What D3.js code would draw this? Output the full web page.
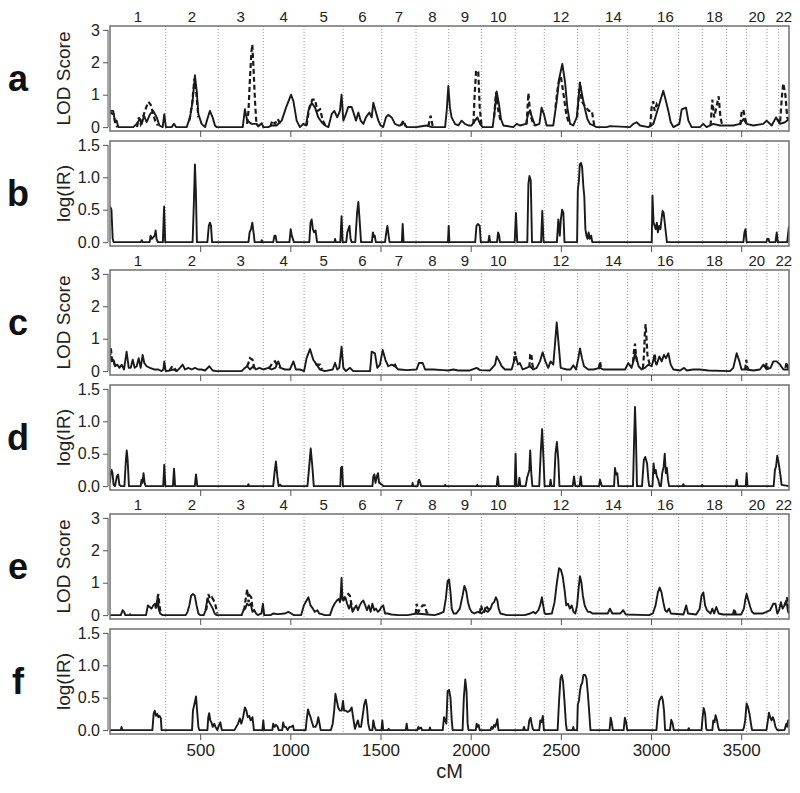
<!DOCTYPE html>
<html>
<head>
<meta charset="utf-8">
<script src="https://cdn.jsdelivr.net/npm/d3@7"></script>
<style>
body { margin: 0; background: #fff; }
svg { font-family: "Liberation Sans", Arial, Helvetica, sans-serif; }
</style>
</head>
<body>
<svg class="scan_chart" width="800" height="793"></svg>
<script>
// chromosome starts (cM) + genome end
var chromBounds = [0, 309, 600, 850, 1076, 1293, 1507, 1697, 1878, 2059, 2247, 2408, 2593, 2713, 2870, 3007, 3153, 3284, 3419, 3530, 3643, 3708, 3765];
var chromLabels = ["1","2","3","4","5","6","7","8","9","10","","12","","14","","16","","18","","20","","22"];
var xTicks = [500, 1000, 1500, 2000, 2500, 3000, 3500];
var lodTicks = [0, 1, 2, 3];
var irTicks = [0, 0.5, 1, 1.5];

// [cM, value]; null = break in the dashed curve (where it just sits under the solid one)
var lodA_solid = [[0,0.5],[18,0.5],[28,0.15],[37,0.2],[46,0],[129,0],[148,0.1],[166,0.25],[176,0.1],[189,0.35],[203,0.15],[222,0.4],[240,0.5],[259,0.3],[274,0.05],[292,0],[301,0.4],[310,0],[342,0],[355,0.1],[366,0],[425,0],[444,0.3],[458,0.8],[471,1.6],[481,1.1],[490,0.4],[508,0.1],[527,0],[540,0.25],[554,0.5],[569,0.3],[582,0.05],[591,0],[736,0],[748,0.55],[761,0.2],[785,0.1],[813,0.1],[822,0.02],[841,0.12],[850,0],[878,0],[896,0.05],[924,0.05],[952,0.2],[976,0.6],[1004,1.0],[1017,0.8],[1035,0.2],[1053,0],[1072,0.1],[1087,0.05],[1100,0.5],[1118,0.75],[1137,0.6],[1155,0.3],[1174,0.15],[1192,0.05],[1211,0],[1229,0.4],[1244,0.5],[1260,0.3],[1275,0.5],[1284,1.0],[1294,0.2],[1308,0.4],[1321,0.62],[1340,0.62],[1353,0.4],[1364,0.2],[1377,0.45],[1390,0.2],[1405,0.1],[1419,0.3],[1438,0.45],[1451,0.3],[1460,0.75],[1475,0.45],[1488,0.2],[1501,0.05],[1515,0],[1530,0.3],[1543,0.38],[1562,0.3],[1580,0.1],[1599,0.05],[1608,0.05],[1626,0.15],[1645,0],[1700,0],[1719,0.02],[1756,0.05],[1784,0],[1858,0],[1867,0.5],[1876,1.27],[1885,0.6],[1894,0.3],[1913,0.1],[1931,0.05],[1950,0.2],[1968,0.1],[1987,0.05],[2005,0.05],[2024,0.2],[2037,0.3],[2052,0.1],[2066,0],[2122,0],[2135,0.6],[2144,1.1],[2157,0.7],[2168,0.25],[2181,0.05],[2236,0],[2255,0.1],[2273,0.05],[2307,0.1],[2320,0.45],[2329,0.5],[2340,0.3],[2357,0.05],[2381,0.1],[2393,0.6],[2406,0.4],[2421,0.05],[2458,0.05],[2477,0.8],[2491,1.5],[2508,1.95],[2523,1.4],[2536,0.6],[2551,0.1],[2569,0.05],[2588,0.3],[2606,1.35],[2621,0.9],[2634,0.55],[2647,0.25],[2661,0.1],[2680,0.05],[2698,0],[2754,0],[2772,0.03],[2883,0],[2902,0.1],[2920,0.15],[2939,0.05],[2985,0],[3013,0.1],[3040,0.6],[3068,1.12],[3083,0.8],[3096,0.5],[3109,0.15],[3124,0],[3157,0.1],[3170,0.55],[3194,0.6],[3207,0.2],[3225,0],[3271,0],[3290,0.1],[3308,0],[3345,0.1],[3382,0.05],[3456,0.05],[3493,0.1],[3512,0.25],[3530,0.1],[3567,0.05],[3622,0.1],[3641,0.2],[3669,0.05],[3693,0.3],[3715,0.1],[3743,0.15],[3765,0.25]];
var lodA_dashed = [[0,0.45],[20,0.4],[30,0.1],[40,0],null,[150,0],[160,0.3],[170,0.1],[185,0.35],[200,0.6],[213,0.78],[225,0.7],[235,0.5],[250,0.2],[265,0.05],null,[440,0.2],[455,0.7],[468,1.5],[478,1.1],[490,0.3],null,[760,0.1],[768,0.5],[776,1.5],[784,2.3],[789,2.55],[796,1.8],[804,0.8],[812,0.1],[820,0.05],null,[890,0.02],[900,0.2],[915,0.1],[930,0.25],[945,0.1],null,[1090,0.05],[1105,0.6],[1122,0.85],[1137,0.85],[1150,0.5],[1165,0.55],[1180,0.2],[1195,0.05],null,[1615,0.05],[1626,0.2],[1640,0.02],null,[1765,0.03],[1778,0.35],[1790,0.01],null,[2015,0.1],[2022,1.0],[2030,1.75],[2042,1.7],[2050,0.6],[2060,0.05],null,[2130,0.3],[2140,1.07],[2150,0.6],[2165,0.2],null,[2310,0.08],[2320,1.05],[2327,0.6],[2335,0.3],[2350,0.05],null,[2470,0.6],[2480,1.1],[2491,1.5],[2500,1.55],[2510,1.2],[2530,0.4],[2545,0.1],null,[2590,0.3],[2600,1.0],[2606,1.4],[2615,0.8],[2640,0.6],[2655,0.5],[2672,0.5],[2685,0.05],null,[2995,0],[3003,0.6],[3012,0.8],[3020,0.5],[3031,0.7],[3040,0.6],null,[3330,0.05],[3340,0.85],[3350,0.3],[3362,0.6],[3375,0.95],[3385,0.3],[3395,0.05],null,[3495,0.07],[3503,0.5],[3512,0.53],[3520,0.3],[3530,0.1],null,[3700,0.25],[3715,0.1],[3725,0.9],[3733,1.35],[3745,1.0],[3755,0.3],[3765,0.2]];

var irB = [[0,0.55],[8,0.5],[15,0.05],[20,0],[170,0],[176,0.03],[180,0],[220,0],[225,0.1],[232,0.05],[248,0.1],[253,0.18],[258,0.05],[265,0],[293,0],[300,0.55],[306,0],[458,0],[465,0.6],[471,1.2],[476,0.8],[482,0],[540,0],[548,0.25],[554,0.3],[560,0.25],[566,0],[768,0],[774,0.15],[782,0.2],[789,0.3],[796,0.15],[802,0],[838,0],[841,0.03],[845,0],[905,0],[912,0.1],[918,0.1],[924,0],[995,0],[1002,0.2],[1008,0.1],[1014,0.05],[1020,0],[1105,0],[1112,0.3],[1118,0.35],[1125,0.2],[1132,0.15],[1140,0.18],[1148,0],[1245,0],[1248,0.05],[1252,0],[1277,0],[1284,0.4],[1290,0],[1310,0],[1316,0.15],[1322,0.2],[1328,0.25],[1334,0.05],[1340,0],[1360,0],[1370,0.45],[1377,0.62],[1385,0.3],[1392,0],[1452,0],[1458,0.15],[1463,0.08],[1468,0.1],[1474,0],[1525,0],[1532,0.15],[1538,0.25],[1545,0.1],[1550,0],[1618,0],[1623,0.28],[1628,0],[1874,0],[1878,0.25],[1882,0],[2025,0],[2032,0.25],[2040,0.28],[2050,0.25],[2056,0],[2098,0],[2103,0.1],[2108,0],[2146,0],[2152,0.15],[2158,0.1],[2162,0],[2244,0],[2251,0.45],[2258,0],[2314,0],[2320,0.9],[2326,1.02],[2333,0.95],[2340,0],[2390,0],[2397,0.48],[2404,0],[2478,0],[2486,0.35],[2494,0.1],[2500,0.35],[2507,0.5],[2514,0.45],[2520,0],[2590,0],[2594,0.8],[2600,0.95],[2605,1.2],[2612,1.22],[2618,1.15],[2625,0.85],[2630,0.7],[2636,0.2],[2642,0.1],[2648,0.05],[2654,0.15],[2660,0.05],[2668,0.1],[2674,0],[3004,0],[3008,0.72],[3014,0.3],[3020,0.25],[3026,0.2],[3032,0.3],[3038,0.15],[3045,0.25],[3052,0.2],[3058,0.35],[3064,0.48],[3070,0.45],[3076,0.3],[3082,0.15],[3088,0],[3512,0],[3518,0.15],[3524,0.2],[3530,0],[3640,0],[3644,0.05],[3652,0.05],[3656,0],[3690,0],[3697,0.15],[3703,0],[3755,0],[3765,0.25]];

var lodC_solid = [[0,0.45],[9,0.3],[18,0.35],[28,0.15],[41,0.2],[52,0.1],[65,0.2],[78,0.05],[92,0.6],[104,0.1],[115,0.1],[126,0.35],[137,0.1],[148,0.15],[159,0.4],[170,0.1],[181,0.5],[190,0.25],[203,0.15],[222,0.1],[244,0.05],[268,0.05],[286,0],[296,0.05],[301,0.3],[309,0],[333,0.02],[351,0.05],[370,0],[388,0.1],[403,0.2],[416,0.05],[434,0.1],[453,0.05],[471,0.1],[490,0.05],[508,0.05],[527,0.02],[551,0.15],[569,0.02],[591,0],[730,0],[748,0.1],[761,0.15],[776,0.05],[795,0.15],[809,0.05],[828,0.1],[850,0.05],[878,0.1],[896,0.05],[917,0.1],[933,0.3],[946,0.1],[970,0.05],[998,0.05],[1017,0.3],[1031,0.05],[1053,0.05],[1076,0],[1090,0.4],[1109,0.68],[1127,0.35],[1146,0.2],[1164,0.05],[1192,0],[1235,0.05],[1248,0.25],[1260,0.05],[1271,0.1],[1284,0.75],[1294,0.1],[1308,0],[1331,0.1],[1349,0],[1442,0],[1451,0.6],[1469,0.55],[1482,0.1],[1497,0.2],[1512,0.65],[1527,0.35],[1543,0.15],[1562,0.2],[1580,0.15],[1599,0.05],[1608,0.05],[1645,0.03],[1700,0.05],[1713,0.25],[1734,0.25],[1747,0.05],[1793,0.05],[1848,0.03],[1876,0.02],[1904,0.05],[1931,0.02],[1996,0.02],[2033,0.1],[2052,0.03],[2107,0.02],[2135,0.2],[2144,0.45],[2159,0.3],[2172,0.15],[2190,0.05],[2227,0.05],[2240,0.3],[2251,0.45],[2262,0.2],[2273,0.25],[2288,0.05],[2310,0.1],[2329,0.15],[2347,0.05],[2366,0.1],[2384,0.3],[2399,0.58],[2414,0.3],[2430,0.1],[2443,0.3],[2458,0.2],[2467,0.8],[2477,1.5],[2488,0.8],[2499,0.1],[2532,0.05],[2554,0.05],[2569,0.18],[2584,0.05],[2597,0.4],[2606,0.7],[2617,0.4],[2628,0.15],[2652,0.05],[2680,0.05],[2717,0.1],[2735,0.05],[2791,0.05],[2828,0.05],[2856,0.05],[2874,0.25],[2892,0.1],[2902,0.3],[2911,0.55],[2920,0.4],[2931,0.15],[2948,0.05],[2966,0.1],[2985,0.2],[3003,0.15],[3016,0.4],[3031,0.2],[3046,0.45],[3059,0.3],[3072,0.5],[3083,0.4],[3096,0.55],[3109,0.2],[3124,0.05],[3161,0.02],[3183,0.1],[3198,0.02],[3234,0.05],[3271,0.05],[3318,0.02],[3438,0],[3456,0.1],[3475,0.55],[3490,0.3],[3502,0.05],[3530,0.05],[3567,0.02],[3604,0.05],[3623,0.2],[3641,0.05],[3663,0.1],[3678,0.3],[3697,0.3],[3715,0.2],[3734,0.05],[3765,0.05]];
var lodC_dashed = [[0,0.45],[5,0.7],[12,0.3],[20,0.35],[28,0.15],null,[330,0.02],[345,0.15],[355,0.1],[370,0],null,[760,0.15],[768,0.25],[776,0.4],[790,0.35],[800,0.1],[809,0.05],null,[880,0.1],[890,0.15],[900,0.25],[915,0.3],[925,0.2],[946,0.1],null,[1140,0.18],[1150,0.2],[1165,0.2],[1175,0.05],null,[1570,0.15],[1580,0.2],[1590,0.1],null,[2240,0.3],[2245,0.6],[2250,0.45],null,[2325,0.12],[2330,0.5],[2336,0.55],[2342,0.2],[2350,0.05],null,[2710,0.08],[2717,0.3],[2724,0.08],null,[2900,0.28],[2905,0.6],[2911,0.85],[2918,0.4],[2925,0.25],null,[2955,0.08],[2962,0.6],[2966,1.2],[2970,1.45],[2975,1.0],[2980,0.5],[2988,0.3],[2995,0.18],null,[3015,0.35],[3020,0.55],[3025,0.3],[3031,0.2],null,[3522,0.05],[3528,0.35],[3535,0.1],[3542,0.04],null,[3635,0.1],[3641,0.25],[3648,0.08],null,[3745,0.1],[3752,0.28],[3760,0.1],[3765,0.05]];

var irD = [[0,0.05],[4,0.2],[9,0.25],[14,0.2],[20,0.02],[28,0],[38,0.15],[45,0.18],[52,0.02],[60,0],[80,0],[88,0.4],[93,0.55],[98,0.4],[105,0],[170,0],[175,0.1],[180,0.05],[186,0.2],[192,0.05],[198,0],[295,0],[301,0.33],[307,0],[349,0],[355,0.27],[361,0],[470,0],[477,0.18],[484,0],[764,0],[767,0.03],[771,0],[905,0],[912,0.2],[920,0.38],[928,0.15],[935,0],[945,0.02],[950,0],[1095,0],[1103,0.25],[1113,0.58],[1122,0.3],[1130,0],[1277,0],[1281,0.28],[1287,0.3],[1292,0],[1455,0],[1460,0.15],[1466,0.18],[1472,0.05],[1480,0.15],[1486,0.2],[1492,0.05],[1497,0.05],[1502,0.03],[1510,0.02],[1515,0],[1675,0],[1678,0.05],[1681,0],[1706,0],[1710,0.08],[1714,0.1],[1720,0.05],[1725,0],[1856,0],[1859,0.02],[1862,0],[2034,0],[2037,0.02],[2040,0],[2144,0],[2150,0.15],[2156,0],[2244,0],[2249,0.5],[2254,0],[2265,0],[2270,0.13],[2276,0],[2305,0],[2312,0.12],[2318,0.18],[2325,0.25],[2330,0.55],[2336,0.2],[2342,0],[2380,0],[2388,0.5],[2396,0.88],[2404,0.4],[2410,0],[2438,0],[2443,0.1],[2448,0],[2462,0],[2470,0.5],[2478,0.68],[2486,0.4],[2492,0],[2566,0],[2573,0.15],[2580,0],[2604,0],[2610,0.15],[2616,0],[2712,0],[2717,0.1],[2722,0.05],[2727,0],[2795,0],[2800,0.28],[2806,0.18],[2813,0.2],[2819,0],[2900,0],[2906,0.7],[2911,1.22],[2916,0.8],[2922,0],[2950,0],[2960,0.4],[2968,0.45],[2978,0.35],[2985,0.1],[2990,0],[3008,0],[3014,0.35],[3020,0.2],[3026,0.25],[3032,0.15],[3040,0.1],[3048,0],[3055,0],[3062,0.2],[3070,0.3],[3076,0.5],[3082,0.2],[3088,0.28],[3094,0.1],[3100,0],[3175,0],[3179,0.03],[3183,0],[3281,0],[3284,0.02],[3287,0],[3470,0],[3475,0.1],[3480,0],[3525,0],[3530,0.2],[3535,0],[3680,0],[3687,0.25],[3693,0.3],[3700,0.47],[3708,0.35],[3716,0.2],[3724,0.02],[3765,0]];

var lodE_solid = [[0,0],[60,0],[70,0.15],[78,0.1],[85,0],[108,0],[111,0.03],[114,0],[200,0],[210,0.3],[220,0.25],[230,0.2],[240,0.3],[250,0.35],[258,0.25],[265,0.6],[270,0.2],[278,0.05],[290,0],[420,0],[430,0.1],[440,0.3],[450,0.6],[460,0.65],[470,0.6],[480,0.3],[490,0.05],[500,0],[520,0],[530,0.15],[540,0.5],[550,0.4],[560,0.3],[570,0.2],[580,0.05],[590,0],[730,0],[740,0.15],[750,0.2],[760,0.35],[770,0.3],[780,0.35],[790,0.1],[800,0.15],[810,0.05],[820,0],[840,0.05],[848,0.35],[855,0],[890,0],[905,0.05],[930,0.03],[970,0.05],[989,0.1],[1005,0.05],[1020,0],[1060,0],[1075,0.3],[1090,0.45],[1100,0.55],[1112,0.3],[1125,0.2],[1135,0.1],[1150,0.15],[1160,0.05],[1175,0.03],[1190,0],[1220,0],[1232,0.2],[1245,0.35],[1258,0.45],[1268,0.5],[1275,0.4],[1280,0.7],[1284,1.15],[1288,0.5],[1295,0.45],[1305,0.55],[1315,0.35],[1325,0.2],[1335,0.35],[1345,0.1],[1355,0.2],[1365,0.3],[1375,0.15],[1385,0.3],[1395,0.4],[1405,0.45],[1415,0.3],[1425,0.15],[1435,0.3],[1445,0.1],[1455,0.35],[1465,0.15],[1475,0.2],[1485,0.1],[1495,0.15],[1505,0.25],[1515,0.3],[1525,0.05],[1540,0.05],[1560,0.02],[1600,0],[1650,0],[1700,0.05],[1760,0.02],[1800,0],[1830,0.05],[1850,0.1],[1862,0.5],[1872,1.05],[1880,1.1],[1888,0.7],[1895,0.2],[1905,0.05],[1920,0.05],[1940,0.2],[1955,0.6],[1965,0.9],[1975,0.75],[1985,0.4],[1995,0.2],[2005,0.1],[2020,0.05],[2040,0.1],[2060,0.05],[2080,0.15],[2095,0.1],[2110,0.2],[2120,0.35],[2130,0.4],[2140,0.55],[2148,0.45],[2155,0.2],[2165,0.05],[2200,0],[2300,0],[2330,0.05],[2347,0.1],[2360,0.05],[2375,0.15],[2385,0.3],[2395,0.55],[2402,0.3],[2410,0.05],[2420,0.03],[2450,0.05],[2465,0.4],[2478,1.0],[2490,1.45],[2500,1.4],[2510,1.2],[2520,0.8],[2530,0.3],[2540,0.35],[2550,0.2],[2560,0.3],[2570,0.1],[2580,0.05],[2590,0.3],[2598,0.8],[2606,1.2],[2614,1.0],[2622,0.6],[2632,0.3],[2640,0.2],[2650,0.1],[2662,0.1],[2675,0.05],[2690,0.05],[2760,0.05],[2772,0.2],[2785,0.05],[2830,0.05],[2846,0.15],[2860,0.02],[2990,0],[3010,0.05],[3025,0.3],[3038,0.7],[3048,0.85],[3058,0.7],[3068,0.4],[3078,0.15],[3088,0.1],[3100,0.2],[3110,0.05],[3180,0.02],[3195,0.3],[3205,0.05],[3250,0.02],[3270,0.2],[3280,0.6],[3290,0.7],[3300,0.3],[3310,0.15],[3320,0.1],[3330,0.05],[3340,0.2],[3350,0.05],[3362,0.25],[3375,0.05],[3400,0.02],[3500,0.02],[3515,0.2],[3522,0.45],[3530,0.65],[3540,0.45],[3550,0.25],[3560,0.1],[3570,0.05],[3620,0.05],[3641,0.1],[3660,0.15],[3678,0.35],[3690,0.35],[3700,0.05],[3710,0.15],[3720,0.4],[3730,0.2],[3740,0.3],[3750,0.45],[3760,0.1],[3765,0.05]];
var lodE_dashed = [[250,0.35],[255,0.2],[262,0.45],[268,0.65],[274,0.3],[282,0.03],null,[530,0.15],[535,0.2],[545,0.65],[555,0.5],[565,0.55],[575,0.45],[585,0.3],[595,0.05],null,[740,0.15],[745,0.2],[755,0.6],[761,0.8],[768,0.4],[775,0.6],[783,0.55],[790,0.2],[800,0.15],null,[1285,0.8],[1290,0.5],[1300,0.55],[1312,0.6],[1322,0.65],[1330,0.6],[1340,0.3],[1350,0.2],null,[1695,0.04],[1700,0.35],[1710,0.1],[1725,0.25],[1735,0.3],[1745,0.3],[1755,0.1],[1765,0.03],null,[2050,0.06],[2058,0.3],[2066,0.1],[2075,0.1],[2085,0.3],[2095,0.2],[2105,0.18],null,[3455,0.02],[3462,0.2],[3470,0.02],null,[3740,0.3],[3748,0.4],[3754,0.55],[3760,0.3],[3765,0.2]];

var irF = [[0,0],[60,0],[64,0.05],[68,0],[235,0],[242,0.25],[248,0.3],[255,0.22],[262,0.25],[268,0.2],[275,0.22],[282,0.18],[286,0],[455,0],[460,0.3],[468,0.4],[477,0.52],[483,0.3],[490,0.05],[495,0],[540,0],[545,0.2],[550,0.26],[556,0.15],[562,0.12],[570,0.05],[578,0.1],[585,0.05],[595,0],[605,0.08],[612,0.12],[620,0],[690,0],[700,0.05],[710,0.1],[720,0.18],[728,0.1],[738,0.2],[748,0.35],[756,0.3],[764,0.2],[772,0.22],[780,0.15],[790,0.2],[798,0],[845,0],[850,0.15],[855,0],[900,0],[905,0.1],[912,0.05],[920,0.08],[930,0.05],[935,0],[955,0],[960,0.12],[966,0.05],[975,0.05],[985,0],[995,0.05],[1005,0.05],[1015,0.07],[1020,0],[1085,0],[1090,0.15],[1098,0.32],[1105,0.25],[1112,0.2],[1120,0.12],[1128,0.05],[1140,0.05],[1148,0.1],[1155,0.2],[1162,0.1],[1168,0],[1225,0],[1235,0.1],[1243,0.3],[1250,0.56],[1258,0.45],[1265,0.35],[1275,0.3],[1285,0.3],[1292,0.45],[1298,0.3],[1308,0.3],[1318,0.28],[1330,0.3],[1340,0.35],[1348,0.2],[1358,0.02],[1368,0.1],[1375,0.15],[1382,0.05],[1392,0.05],[1400,0.2],[1410,0.4],[1418,0.47],[1425,0.35],[1432,0.1],[1440,0],[1455,0],[1460,0.15],[1467,0.05],[1475,0],[1505,0],[1510,0.15],[1515,0],[1540,0],[1545,0.02],[1550,0],[1640,0],[1645,0.1],[1650,0],[1705,0],[1710,0.05],[1715,0.02],[1725,0.04],[1730,0],[1770,0],[1774,0.04],[1778,0],[1845,0],[1852,0.2],[1858,0.15],[1865,0.1],[1872,0.6],[1880,0.62],[1888,0.5],[1895,0.15],[1900,0],[1955,0],[1962,0.5],[1970,0.78],[1977,0.6],[1983,0.1],[1988,0],[2028,0],[2033,0.1],[2038,0.05],[2044,0.08],[2050,0],[2110,0],[2116,0.05],[2122,0.02],[2130,0.08],[2136,0.05],[2142,0.1],[2148,0.17],[2154,0],[2290,0],[2296,0.05],[2300,0],[2318,0],[2325,0.15],[2332,0.19],[2338,0.1],[2344,0.02],[2350,0],[2380,0],[2386,0.15],[2393,0.12],[2400,0.22],[2406,0],[2482,0],[2490,0.45],[2498,0.8],[2505,0.85],[2512,0.75],[2520,0.45],[2528,0.1],[2533,0],[2565,0],[2569,0.05],[2573,0],[2590,0],[2594,0.4],[2600,0.45],[2606,0.6],[2612,0.7],[2618,0.72],[2625,0.85],[2635,0.85],[2642,0.8],[2650,0.55],[2658,0.25],[2664,0],[2770,0],[2776,0.19],[2782,0.12],[2788,0],[2848,0],[2855,0.19],[2862,0.12],[2868,0],[3030,0],[3038,0.3],[3046,0.45],[3054,0.5],[3060,0.52],[3066,0.45],[3072,0.3],[3078,0],[3105,0],[3112,0.16],[3120,0.1],[3126,0],[3205,0],[3209,0.03],[3213,0],[3280,0],[3286,0.2],[3292,0.34],[3300,0.25],[3306,0.02],[3310,0],[3340,0],[3345,0.15],[3352,0.12],[3358,0.23],[3366,0.15],[3372,0.05],[3378,0],[3510,0],[3516,0.05],[3522,0.15],[3530,0.41],[3538,0.35],[3546,0.25],[3554,0.1],[3560,0],[3640,0],[3648,0.15],[3654,0.27],[3660,0.2],[3668,0.15],[3675,0.2],[3682,0.15],[3690,0.05],[3700,0],[3740,0],[3745,0.05],[3750,0.1],[3755,0.05],[3760,0.15],[3765,0.15]];

var left = 110, right = 789, panelH = 105;

var chart = d3.select(".scan_chart");

var x = d3.scaleLinear()
    .domain([0, 3765])
    .range([left, right]);

var panels = [
    { letter: "a", top: 26,  lod: true,  solid: lodA_solid, dashed: lodA_dashed },
    { letter: "b", top: 141, lod: false, solid: irB },
    { letter: "c", top: 270, lod: true,  solid: lodC_solid, dashed: lodC_dashed },
    { letter: "d", top: 385, lod: false, solid: irD },
    { letter: "e", top: 514, lod: true,  solid: lodE_solid, dashed: lodE_dashed },
    { letter: "f", top: 629, lod: false, solid: irF, last: true }
];

panels.forEach(function (p, i) {
    var bottom = p.top + panelH;
    // R style 4% padding on y
    var y = d3.scaleLinear()
        .domain(p.lod ? [-0.12, 3.12] : [-0.06, 1.56])
        .range([bottom, p.top]);

    var g = chart.append("g").attr("class", "panel");

    g.append("clipPath")
        .attr("id", "clip" + i)
        .append("rect")
        .attr("x", left)
        .attr("y", p.top)
        .attr("width", right - left)
        .attr("height", panelH);

    // chromosome boundaries
    g.selectAll(".chr")
        .data(chromBounds.slice(1, -1))
        .enter()
        .append("line")
        .attr("x1", function (d) { return x(d); })
        .attr("x2", function (d) { return x(d); })
        .attr("y1", p.top)
        .attr("y2", bottom)
        .style("stroke", "#9a9a9a")
        .style("stroke-width", 1)
        .style("stroke-dasharray", "1,2");

    var line = d3.line()
        .defined(function (d) { return d !== null; })
        .x(function (d) { return x(d[0]); })
        .y(function (d) { return y(d[1]); });

    if (p.dashed) {
        g.append("path")
            .datum(p.dashed)
            .attr("clip-path", "url(#clip" + i + ")")
            .attr("d", line)
            .style("fill", "none")
            .style("stroke", "#1a1a1a")
            .style("stroke-width", 2.2)
            .style("stroke-dasharray", "5,3");
    }

    g.append("path")
        .datum(p.solid)
        .attr("clip-path", "url(#clip" + i + ")")
        .attr("d", line)
        .style("fill", "none")
        .style("stroke", "#1a1a1a")
        .style("stroke-width", 1.9)
        .style("stroke-linejoin", "round");

    // frame
    g.append("rect")
        .attr("x", left)
        .attr("y", p.top)
        .attr("width", right - left)
        .attr("height", panelH)
        .style("fill", "none")
        .style("stroke", "#707070")
        .style("stroke-width", 1.5);

    // y axis
    var ticks = p.lod ? lodTicks : irTicks;
    var yAxis = d3.axisLeft(y)
        .tickValues(ticks)
        .tickSize(5)
        .tickPadding(3)
        .tickFormat(p.lod ? d3.format("d") : d3.format(".1f"));

    var ya = g.append("g")
        .attr("transform", "translate(" + (left - 2) + ",0)")
        .call(yAxis);
    ya.select(".domain").remove();
    ya.append("line")
        .attr("y1", y(ticks[0]))
        .attr("y2", y(ticks[ticks.length - 1]))
        .style("stroke", "#555");
    ya.selectAll(".tick line").style("stroke", "#555");
    ya.selectAll(".tick text")
        .style("font-size", "16px")
        .style("fill", "#222");

    // x axis ticks
    var xAxis = d3.axisBottom(x)
        .tickValues(xTicks)
        .tickSize(6)
        .tickPadding(4)
        .tickFormat(p.last ? d3.format("d") : "");
    var xa = g.append("g")
        .attr("transform", "translate(0," + bottom + ")")
        .call(xAxis);
    xa.select(".domain").remove();
    xa.selectAll(".tick line").style("stroke", "#555");
    xa.selectAll(".tick text")
        .style("font-size", "17px")
        .style("fill", "#222");

    // chromosome labels above LOD panels
    if (p.lod) {
        g.selectAll(".chrlab")
            .data(chromLabels)
            .enter()
            .append("text")
            .attr("x", function (d, j) { return x((chromBounds[j] + chromBounds[j + 1]) / 2); })
            .attr("y", p.top - 4)
            .attr("text-anchor", "middle")
            .style("font-size", "15px")
            .style("fill", "#222")
            .text(function (d) { return d; });
    }

    // axis title
    var cy = p.top + panelH / 2;
    g.append("text")
        .attr("transform", "translate(70," + cy + ") rotate(-90)")
        .attr("text-anchor", "middle")
        .style("font-size", "19px")
        .style("fill", "#222")
        .text(p.lod ? "LOD Score" : "log(IR)");

    // panel letter
    g.append("text")
        .attr("x", 18)
        .attr("y", cy + 12)
        .attr("text-anchor", "middle")
        .style("font-size", "36px")
        .style("font-weight", "bold")
        .style("fill", "#111")
        .text(p.letter);
});

chart.append("text")
    .attr("x", (left + right) / 2)
    .attr("y", 778)
    .attr("text-anchor", "middle")
    .style("font-size", "20px")
    .style("fill", "#222")
    .text("cM");
</script>
</body>
</html>
